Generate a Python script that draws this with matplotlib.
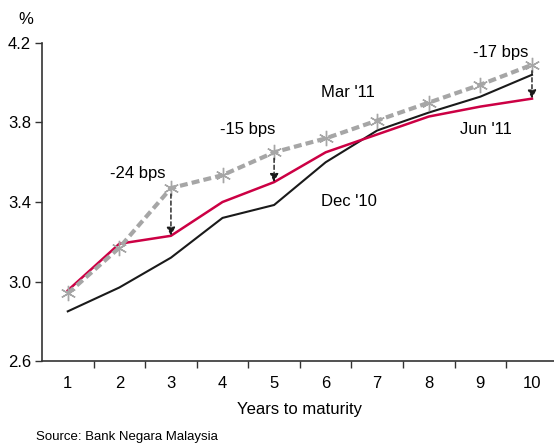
import matplotlib
matplotlib.use("Agg")
import matplotlib.pyplot as plt
import numpy as np

plt.rcParams['font.family'] = ['Liberation Sans', 'DejaVu Sans']

years = [1, 2, 3, 4, 5, 6, 7, 8, 9, 10]
dec10 = [2.85, 2.97, 3.12, 3.32, 3.385, 3.60, 3.76, 3.85, 3.93, 4.04]
mar11 = [2.94, 3.17, 3.47, 3.535, 3.65, 3.72, 3.81, 3.90, 3.99, 4.09]
jun11 = [2.955, 3.19, 3.23, 3.40, 3.50, 3.65, 3.74, 3.83, 3.88, 3.92]
yticks = [2.6, 3.0, 3.4, 3.8, 4.2]
# maturities where the Mar -> Jun change is marked
change_at = [3, 5, 10]

FS = 12

fig = plt.figure(figsize=(5.54, 4.43), dpi=100)
ax = fig.add_axes([0.0758, 0.185, 0.931, 0.718])

ax.plot(years, dec10, color='#1a1a1a', lw=1.5, zorder=3)
ax.plot(years, jun11, color='#cc0044', lw=1.8, zorder=4)
ax.plot(years, mar11, color='#a6a6a6', lw=3.0, ls=(0, (1.9, 1.0)),
        marker=(6, 2, 0), ms=11, mew=1.0, zorder=5)

for x in change_at:
    i = years.index(x)
    top, bot = mar11[i], jun11[i]
    ax.annotate('', xy=(x, bot), xytext=(x, top - 0.03),
                arrowprops=dict(arrowstyle='-|>,head_length=0.5,head_width=0.25',
                                color='#1a1a1a', lw=1.0, ls=(0, (3, 2)),
                                shrinkA=0, shrinkB=0), zorder=6)
    bps = round((bot - top) * 100)
    if x == 3:
        ax.text(x - 0.65, top + 0.035, f'{bps} bps', fontsize=FS, ha='center', va='bottom')
    elif x == 5:
        ax.text(x - 0.52, top + 0.075, f'{bps} bps', fontsize=FS, ha='center', va='bottom')
    else:
        ax.text(x - 0.07, top + 0.025, f'{bps} bps', fontsize=FS, ha='right', va='bottom')

ax.text(6.43, 3.953, "Mar '11", fontsize=FS, ha='center', va='center')
ax.text(6.45, 3.405, "Dec '10", fontsize=FS, ha='center', va='center')
ax.text(9.1, 3.767, "Jun '11", fontsize=FS, ha='center', va='center')

ax.set_xlim(0.5, 10.5)
ax.set_ylim(2.6, 4.2)
ax.set_yticks(yticks)
ax.set_yticklabels([f'{v:.1f}' for v in yticks], fontsize=FS)
ax.set_xticks(years)
ax.set_xticklabels([str(y) for y in years], fontsize=FS)
ax.set_xticks(np.arange(1.5, 10.5, 1), minor=True)
ax.tick_params(axis='x', which='major', length=0, pad=11)
ax.tick_params(axis='x', which='minor', length=5, width=1, color='#333333', direction='out')
ax.tick_params(axis='y', length=5, width=1, color='#333333', direction='out', pad=3)

for s in ['top', 'right']:
    ax.spines[s].set_visible(False)
for s in ['left', 'bottom']:
    ax.spines[s].set_color('#333333')
    ax.spines[s].set_linewidth(1.2)

ax.set_xlabel('Years to maturity', fontsize=FS, labelpad=8)
fig.text(0.047, 0.957, '%', fontsize=FS, ha='center', va='center')
fig.text(0.065, 0.014, 'Source: Bank Negara Malaysia', fontsize=9.5, ha='left', va='center')

fig.savefig('out.png', dpi=100)
